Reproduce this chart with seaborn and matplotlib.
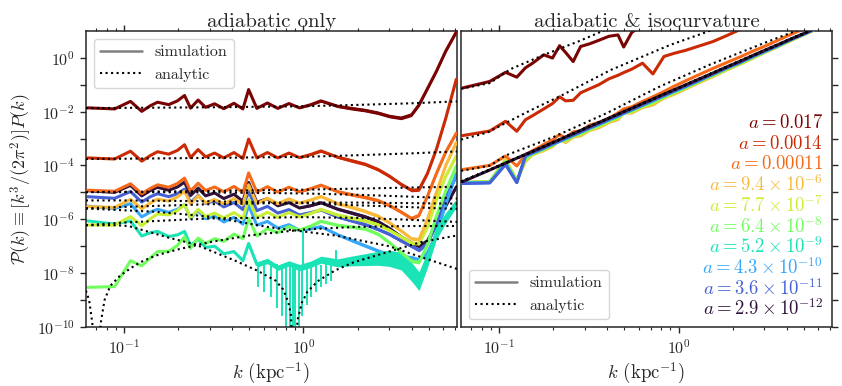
import numpy as np
import matplotlib
matplotlib.use("Agg")
import matplotlib.pyplot as plt
import seaborn as sns
from matplotlib.lines import Line2D
from matplotlib.ticker import NullLocator, NullFormatter, FixedLocator, FixedFormatter

# ---- data (log10 of P(k)) ----
# simulation k bins (kpc^-1)
k_sim = [0.0628, 0.0888, 0.1088, 0.1257, 0.1405, 0.1539, 0.1776, 0.1987, 0.2176, 0.2350,
         0.2590, 0.2850, 0.32, 0.36, 0.41, 0.46, 0.495, 0.55, 0.63, 0.72,
         0.83, 0.95, 1.1, 1.25, 1.55, 1.85, 2.2, 2.6, 3.0, 3.5,
         4.0, 4.4, 4.9, 5.5, 6.2, 7.1]

# shared mode-to-mode scatter of the realisation (dex)
wiggle_adi = [-0.06, -0.10, 0.18, -0.19, 0.02, 0.15, 0.06, 0.20, 0.40, -0.08,
              0.22, -0.05, 0.08, -0.10, 0.10, -0.12, 0.60, -0.10, 0.10, -0.10,
              0.08, -0.08, 0.05, 0.20, 0.03, 0.0, 0.0, 0.0, 0.0, 0.0,
              0.0, 0.0, 0.0, 0.0, 0.0, 0.0]
# half width of the noisy band at high k (dex)
band_dex = [0] * 20 + [0.02, 0.03, 0.04, 0.05, 0.05, 0.06, 0.06, 0.06, 0.06, 0.06,
                       0.06, 0.06, 0.06, 0.06, 0.06, 0.06]
band_dex_turq = [0] * 16 + [0.08, 0.10, 0.10, 0.10, 0.10, 0.12, 0.12, 0.13, 0.15, 0.18,
                            0.22, 0.26, 0.30, 0.33, 0.35, 0.35, 0.30, 0.25, 0.20, 0.15]

# adiabatic only: simulation (smooth part)
adi_a017 = [-1.80, -1.80, -1.80, -1.80, -1.80, -1.80, -1.80, -1.80, -1.80, -1.79,
            -1.79, -1.79, -1.79, -1.79, -1.79, -1.78, -1.78, -1.78, -1.78, -1.78,
            -1.78, -1.78, -1.79, -1.80, -1.83, -1.88, -1.95, -2.05, -2.17, -2.24,
            -2.12, -1.75, -1.15, -0.50, 0.25, 0.96]
adi_a0014 = [-3.66, -3.66, -3.65, -3.65, -3.65, -3.64, -3.64, -3.64, -3.63, -3.63,
             -3.63, -3.63, -3.62, -3.62, -3.62, -3.62, -3.62, -3.62, -3.62, -3.62,
             -3.62, -3.63, -3.64, -3.66, -3.72, -3.82, -3.95, -4.15, -4.39, -4.70,
             -4.92, -4.90, -4.30, -3.40, -2.25, -0.80]
adi_a00011 = [-4.86, -4.86, -4.86, -4.86, -4.87, -4.87, -4.87, -4.87, -4.87, -4.87,
              -4.88, -4.88, -4.88, -4.88, -4.88, -4.88, -4.88, -4.89, -4.89, -4.89,
              -4.89, -4.90, -4.91, -4.93, -5.00, -5.08, -5.18, -5.30, -5.48, -5.73,
              -5.97, -5.85, -5.15, -4.30, -3.50, -2.80]
adi_a94e6 = [-5.47, -5.46, -5.44, -5.42, -5.41, -5.40, -5.38, -5.37, -5.36, -5.35,
             -5.35, -5.34, -5.34, -5.33, -5.33, -5.33, -5.32, -5.32, -5.32, -5.32,
             -5.32, -5.32, -5.33, -5.35, -5.45, -5.55, -5.70, -5.88, -6.12, -6.43,
             -6.72, -6.75, -6.00, -5.00, -4.00, -3.15]
adi_a77e7 = [-6.15, -6.12, -6.08, -6.05, -6.00, -5.95, -5.90, -5.87, -5.86, -5.86,
             -5.85, -5.85, -5.85, -5.85, -5.85, -5.85, -5.85, -5.84, -5.84, -5.83,
             -5.83, -5.83, -5.83, -5.83, -5.87, -5.95, -6.05, -6.20, -6.40, -6.65,
             -6.88, -6.90, -6.30, -5.30, -4.40, -3.65]
adi_a64e8 = [-8.47, -8.40, -7.72, -7.54, -7.45, -7.35, -7.25, -7.17, -7.05, -7.00,
             -6.92, -6.85, -6.80, -6.72, -6.65, -6.60, -6.57, -6.52, -6.45, -6.40,
             -6.35, -6.32, -6.30, -6.27, -6.25, -6.28, -6.35, -6.55, -6.86, -7.23,
             -7.55, -7.60, -6.95, -5.88, -4.95, -4.02]
adi_a52e9 = [-6.00, -6.08, -6.24, -6.43, -6.52, -6.60, -6.70, -6.78, -6.85, -6.90,
             -6.95, -7.00, -7.08, -7.18, -7.30, -7.42, -7.50, -7.58, -7.65, -7.70,
             -7.72, -7.72, -7.72, -7.70, -7.65, -7.55, -7.50, -7.45, -7.45, -7.55,
             -7.95, -8.30, -7.50, -6.50, -5.95, -5.40]
adi_a43e10 = [-5.45, -5.50, -5.60, -5.72, -5.75, -5.78, -5.80, -5.83, -5.86, -5.88,
              -5.90, -5.93, -5.96, -6.00, -6.03, -6.06, -6.08, -6.12, -6.18, -6.23,
              -6.28, -6.33, -6.40, -6.47, -6.60, -6.78, -6.98, -7.17, -7.33, -7.38,
              -7.42, -7.50, -7.25, -6.55, -5.45, -4.30]
adi_a36e11 = [-5.10, -5.12, -5.15, -5.17, -5.18, -5.20, -5.22, -5.25, -5.28, -5.30,
              -5.33, -5.36, -5.40, -5.44, -5.48, -5.52, -5.55, -5.58, -5.62, -5.67,
              -5.72, -5.76, -5.80, -5.85, -5.94, -6.05, -6.19, -6.37, -6.55, -6.80,
              -7.00, -7.15, -6.90, -6.20, -5.20, -4.40]
adi_a29e12 = [-4.88, -4.90, -4.92, -4.94, -4.95, -4.96, -4.98, -5.00, -5.02, -5.04,
              -5.06, -5.08, -5.10, -5.13, -5.17, -5.21, -5.23, -5.27, -5.33, -5.40,
              -5.46, -5.50, -5.54, -5.58, -5.65, -5.76, -5.90, -6.08, -6.33, -6.65,
              -6.88, -7.00, -6.80, -6.20, -5.50, -4.80]

# single modes of the a = 5.2e-9 run that scatter far from the band
turq_spike_k = [0.56, 0.60, 0.66, 0.71, 0.76, 0.80, 0.84, 0.87, 0.90, 0.94, 0.98, 1.04,
                1.10, 1.17, 1.25, 1.33, 1.42, 1.00, 1.52]
turq_spike_lo = [-8.5, -8.7, -8.9, -9.3, -9.6, -10.0, -10.5, -10.5, -10.5, -10.2, -9.6, -9.2,
                 -8.9, -8.7, -8.5, -8.4, -8.3, -7.7, -7.7]
turq_spike_hi = [-7.6, -7.6, -7.65, -7.65, -7.7, -7.7, -7.7, -7.7, -7.7, -7.7, -7.7, -7.7,
                 -7.7, -7.7, -7.7, -7.65, -7.65, -6.4, -7.15]

# adiabatic only: analytic
k_lin_flat = [0.0614, 0.1, 0.3, 1.0, 2.0, 4.0, 7.2]
lin_a017 = [-1.87, -1.86, -1.84, -1.80, -1.75, -1.69, -1.62]
lin_a0014 = [-3.76, -3.75, -3.72, -3.68, -3.62, -3.55, -3.48]
lin_a00011 = [-4.99, -4.98, -4.95, -4.90, -4.86, -4.82, -4.79]
lin_a94e6 = [-5.59, -5.54, -5.44, -5.38, -5.38, -5.40, -5.42]
lin_a77e7 = [-6.22, -6.12, -5.97, -5.92, -5.95, -6.02, -6.10]
lin_a36e11 = [-5.30, -5.30, -5.33, -5.40, -5.48, -5.55, -5.62]
lin_a29e12 = [-4.99, -4.99, -5.00, -5.04, -5.09, -5.16, -5.23]
k_lin_green = [0.0614, 0.064, 0.0665, 0.069, 0.072, 0.0745, 0.078, 0.084, 0.095, 0.11,
               0.123, 0.15, 0.2, 0.3, 0.5, 1.0, 2.0, 4.0, 7.2]
lin_a64e8 = [-8.65, -9.0, -9.8, -10.8, -10.8, -9.8, -9.0, -8.47, -8.1, -7.8,
             -7.6, -7.35, -7.12, -6.85, -6.6, -6.38, -6.28, -6.25, -6.25]
k_lin_turq = [0.0614, 0.09, 0.106, 0.13, 0.177, 0.249, 0.417, 0.55, 0.7, 0.77, 0.82, 0.85,
              0.87, 0.895, 0.93, 0.98, 1.05, 1.2, 1.5, 1.9, 2.9, 4.5, 7.2]
lin_a52e9 = [-6.22, -6.22, -6.25, -6.42, -6.68, -6.93, -7.54, -7.9, -8.28, -8.6, -9.05, -9.5,
             -10.8, -10.8, -9.7, -9.1, -8.7, -8.3, -7.9, -7.6, -7.23, -6.85, -6.6]
k_lin_lblue = [0.0614, 0.15, 0.3, 0.65, 1.5, 3.0, 4.5, 7.2]
lin_a43e10 = [-5.6, -5.72, -5.9, -6.3, -6.6, -7.0, -7.4, -7.85]

# adiabatic & isocurvature: simulation
iso_a017 = [-1.12, -0.88, -0.54, -0.72, -0.37, -0.20, 0.11, -0.01, 0.45, 0.20,
            -0.14, 0.42, 0.52, 0.65, 0.80, 0.85, 0.40, 0.95, 1.20, 1.40]
iso_a0014 = [-2.89, -2.72, -2.36, -2.73, -2.30, -2.15, -1.90, -1.70, -1.45, -1.60,
             -1.58, -1.30, -1.15, -1.00, -0.78, -0.65, -0.55, -0.42, -0.20, -0.60,
             0.05, 0.17, 0.28, 0.40, 0.60, 0.82, 1.05, 1.30]
iso_a00011 = [-4.15, -4.00, -3.65, -4.02, -3.60, -3.45, -3.22, -3.05, -2.85, -2.98,
              -2.75, -2.72, -2.50, -2.40, -2.25, -2.05, -1.90, -1.82, -1.62, -1.45,
              -1.25, -1.05, -0.85, -0.68, -0.40, -0.18, 0.03, 0.25, 0.42, 0.62,
              0.80, 0.92, 1.05]
iso_a94e6 = [-4.62, -4.60, -3.78, -4.55, -3.85, -3.60, -3.45, -3.30, -3.05, -3.15,
             -2.95, -2.90, -2.70, -2.60, -2.40, -2.30, -2.05, -2.05, -1.85, -1.75,
             -1.50, -1.35, -1.15, -0.98, -0.70, -0.46, -0.24, -0.02, 0.18, 0.38,
             0.56, 0.69, 0.83, 0.98, 1.14, 1.31]
iso_a77e7 = [-4.63, -4.61, -3.82, -4.58, -3.79, -3.58, -3.42, -3.27, -3.06, -3.10,
             -2.92, -2.85, -2.67, -2.55, -2.36, -2.25, -2.05, -2.01, -1.82, -1.69,
             -1.47, -1.31, -1.12, -0.95, -0.67, -0.44, -0.22, 0.00, 0.20, 0.40,
             0.57, 0.71, 0.84, 0.99, 1.15, 1.32]
iso_a64e8 = [-4.64, -4.62, -3.86, -4.60, -3.74, -3.56, -3.39, -3.24, -3.06, -3.06,
             -2.90, -2.81, -2.64, -2.51, -2.33, -2.21, -2.04, -1.97, -1.79, -1.65,
             -1.44, -1.28, -1.09, -0.92, -0.65, -0.41, -0.20, 0.02, 0.22, 0.41,
             0.59, 0.72, 0.86, 1.00, 1.16, 1.33]
iso_a52e9 = [-4.65, -4.63, -3.90, -4.62, -3.66, -3.55, -3.37, -3.22, -3.11, -3.01,
             -2.89, -2.77, -2.62, -2.48, -2.31, -2.17, -2.07, -1.94, -1.77, -1.60,
             -1.42, -1.25, -1.07, -0.91, -0.62, -0.39, -0.18, 0.04, 0.22, 0.41,
             0.60, 0.72, 0.85, 1.00, 1.15, 1.32]
iso_a43e10 = [-4.66, -4.64, -3.94, -4.63, -3.65, -3.54, -3.36, -3.21, -3.10, -3.00,
              -2.88, -2.76, -2.61, -2.47, -2.30, -2.16, -2.06, -1.93, -1.76, -1.59,
              -1.41, -1.24, -1.06, -0.90, -0.61, -0.38, -0.17, 0.05, 0.23, 0.42,
              0.61, 0.73, 0.86, 1.01, 1.16, 1.33]
iso_a36e11 = [-4.67, -4.65, -3.97, -4.64, -3.64, -3.53, -3.35, -3.20, -3.09, -2.99,
              -2.87, -2.75, -2.60, -2.46, -2.29, -2.15, -2.05, -1.92, -1.75, -1.58,
              -1.40, -1.23, -1.05, -0.89, -0.61, -0.38, -0.17, 0.06, 0.24, 0.43,
              0.61, 0.73, 0.86, 1.01, 1.16, 1.33]
iso_a29e12 = [-4.60, -4.17, -3.91, -3.73, -3.59, -3.48, -3.30, -3.15, -3.04, -2.94,
              -2.82, -2.70, -2.55, -2.41, -2.24, -2.10, -2.00, -1.87, -1.70, -1.53,
              -1.35, -1.18, -1.00, -0.84, -0.57, -0.34, -0.13, 0.09, 0.27, 0.46,
              0.63, 0.75, 0.88, 1.03, 1.18, 1.35]

# adiabatic & isocurvature: analytic
k_iso_lin_early = [0.0615, 0.09, 0.15, 0.3, 1.0, 3.0, 7.2]
iso_lin_early = [-4.60, -4.15, -3.51, -2.63, -1.12, 0.27, 1.37]
k_iso_lin_a00011 = [0.0615, 0.09, 0.107, 0.2, 0.4, 0.79, 1.5, 3.0, 4.5, 6.0]
iso_lin_a00011 = [-4.2, -4.0, -3.65, -2.95, -2.05, -1.06, -0.25, 0.55, 1.0, 1.3]
k_iso_lin_a0014 = [0.0615, 0.086, 0.107, 0.15, 0.22, 0.42, 0.9, 1.45, 2.0]
iso_lin_a0014 = [-3.04, -2.78, -2.45, -1.95, -1.42, -0.45, 0.48, 0.97, 1.35]
k_iso_lin_a017 = [0.0615, 0.089, 0.116, 0.178, 0.275, 0.38, 0.5]
iso_lin_a017 = [-1.15, -0.94, -0.42, 0.11, 0.60, 1.00, 1.35]

a_labels = [r"$a = 2.9 \times 10^{-12}$", r"$a = 3.6 \times 10^{-11}$",
            r"$a = 4.3 \times 10^{-10}$", r"$a = 5.2 \times 10^{-9}$",
            r"$a = 6.4 \times 10^{-8}$", r"$a = 7.7 \times 10^{-7}$",
            r"$a = 9.4 \times 10^{-6}$", r"$a = 0.00011$", r"$a = 0.0014$", r"$a = 0.017$"]

adi_sims = [adi_a29e12, adi_a36e11, adi_a43e10, adi_a52e9, adi_a64e8,
            adi_a77e7, adi_a94e6, adi_a00011, adi_a0014, adi_a017]
adi_lins = [(k_lin_flat, lin_a29e12), (k_lin_flat, lin_a36e11), (k_lin_lblue, lin_a43e10),
            (k_lin_turq, lin_a52e9), (k_lin_green, lin_a64e8), (k_lin_flat, lin_a77e7),
            (k_lin_flat, lin_a94e6), (k_lin_flat, lin_a00011), (k_lin_flat, lin_a0014),
            (k_lin_flat, lin_a017)]
iso_sims = [iso_a29e12, iso_a36e11, iso_a43e10, iso_a52e9, iso_a64e8,
            iso_a77e7, iso_a94e6, iso_a00011, iso_a0014, iso_a017]
iso_lins = [(k_iso_lin_early, iso_lin_early)] * 7 + [
    (k_iso_lin_a00011, iso_lin_a00011), (k_iso_lin_a0014, iso_lin_a0014),
    (k_iso_lin_a017, iso_lin_a017)]

# ---- style ----
sns.set_style("ticks")
plt.rcParams.update({
    "font.family": "serif",
    "font.serif": ["cmr10"],
    "mathtext.fontset": "cm",
    "axes.formatter.use_mathtext": True,
    "axes.unicode_minus": False,
    "axes.linewidth": 1.1,
    "xtick.direction": "out",
    "ytick.direction": "out",
})

cmap = plt.get_cmap("turbo")
colors = [cmap(v) for v in np.linspace(0, 1, 10)]

fig, (ax1, ax2) = plt.subplots(1, 2, figsize=(8.42, 3.86), dpi=100, sharey=True)
fig.subplots_adjust(left=0.102, right=0.988, bottom=0.153, top=0.92, wspace=0.011)

for ax in (ax1, ax2):
    ax.set_xscale("log")
    ax.set_yscale("log")

k_arr = np.array(k_sim)
wig = np.array(wiggle_adi)

# left: adiabatic only
for i, trend in enumerate(adi_sims):
    c = colors[i]
    centre = np.array(trend) + wig
    band = np.array(band_dex_turq if i == 3 else band_dex)
    ax1.fill_between(k_arr, 10 ** (centre - band), 10 ** (centre + band),
                     color=c, lw=0, zorder=2 + i * 0.1)
    sns.lineplot(x=k_arr, y=10 ** centre, ax=ax1, color=c, lw=2.2,
                 errorbar=None, zorder=2 + i * 0.1)
    if i == 3:
        ax1.vlines(turq_spike_k, 10 ** np.array(turq_spike_lo), 10 ** np.array(turq_spike_hi),
                   color=c, lw=1.4, zorder=2 + i * 0.1)
for kk, vv in adi_lins:
    sns.lineplot(x=np.array(kk), y=10 ** np.array(vv), ax=ax1, color="black",
                 lw=1.5, linestyle=":", errorbar=None, zorder=5)

# right: adiabatic & isocurvature (earliest output drawn last, on top)
for i in range(9, -1, -1):
    vals = np.array(iso_sims[i])
    sns.lineplot(x=k_arr[:len(vals)], y=10 ** vals, ax=ax2, color=colors[i],
                 lw=2.2, errorbar=None, zorder=2 + (9 - i) * 0.1)
for kk, vv in iso_lins:
    sns.lineplot(x=np.array(kk), y=10 ** np.array(vv), ax=ax2, color="black",
                 lw=1.5, linestyle=":", errorbar=None, zorder=5)

for i, lab in enumerate(a_labels):
    ax2.text(0.976, 0.061 + 0.0698 * i, lab, transform=ax2.transAxes,
             ha="right", va="center", color=colors[i], fontsize=13.5)

# axes cosmetics
yt = [10.0 ** e for e in range(-10, 1)]
ylab = [r"$10^{%d}$" % e if e % 2 == 0 else "" for e in range(-10, 1)]
for ax in (ax1, ax2):
    ax.set_xlim(0.0614, 7.15)
    ax.set_ylim(1e-10, 1e1)
    ax.yaxis.set_major_locator(FixedLocator(yt))
    ax.yaxis.set_major_formatter(FixedFormatter(ylab))
    ax.yaxis.set_minor_locator(NullLocator())
    ax.xaxis.set_minor_formatter(NullFormatter())
    ax.tick_params(which="major", length=4.5, width=1.0, labelsize=11.5)
    ax.tick_params(which="minor", length=2.5, width=0.8)
    ax.set_xlabel(r"$k$ (kpc$^{-1}$)", fontsize=13.5, labelpad=3)

ax1.tick_params(which="both", top=True, right=False, left=True)
ax2.tick_params(which="both", top=True, right=True, left=False,
                labelleft=False, labelright=False)
ax1.set_ylabel(r"$\mathcal{P}(k) \equiv [k^3/(2\pi^2)]P(k)$", fontsize=13, labelpad=2)
ax1.set_title("adiabatic only", fontsize=15, pad=3)
ax2.set_title("adiabatic & isocurvature", fontsize=15, pad=3)

handles = [Line2D([], [], color="gray", lw=1.8),
           Line2D([], [], color="black", lw=1.5, linestyle=":")]
ax1.legend(handles, ["simulation", "analytic"], loc="upper left", fontsize=11.5,
           handlelength=2.6, borderaxespad=0.5)
ax2.legend(handles, ["simulation", "analytic"], loc="lower left", fontsize=11.5,
           handlelength=2.6, borderaxespad=0.5)

fig.savefig("out.png", dpi=100)
